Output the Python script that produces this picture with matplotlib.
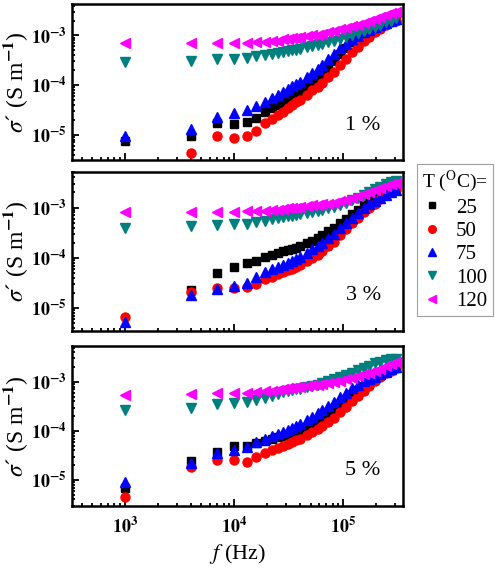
import numpy as np
import matplotlib.pyplot as plt
from matplotlib.ticker import FuncFormatter, LogLocator, NullFormatter

plt.rcParams['font.family'] = ['Liberation Serif', 'DejaVu Serif']
plt.rcParams['mathtext.fontset'] = 'stix'

# frequencies (Hz)
freq = [1e3, 4e3, 7e3, 10e3, 13e3, 16e3, 19e3, 22e3, 25e3, 28e3, 31e3, 34e3, 37e3,
        40e3, 46e3, 52e3, 58e3, 64e3, 73e3, 82e3, 94e3, 106e3, 121e3, 136e3, 154e3,
        172e3, 193e3, 217e3, 244e3, 271e3, 301e3]

temps = ['25', '50', '75', '100', '120']
nan = np.nan

# 1 %
s1_25 = [7.5e-6, 9.3e-6, 1.74e-5, 1.67e-5, 1.8e-5, 2.2e-5, 2.9e-5, 3.4e-5, 4.0e-5, 4.6e-5,
         5.2e-5, 5.8e-5, 6.5e-5, 7.3e-5, 9.0e-5, 1.1e-4, 1.35e-4, 1.65e-4, 2.2e-4, 3.0e-4,
         4.2e-4, 5.6e-4, 7.5e-4, 9.2e-4, 1.1e-3, 1.27e-3, 1.43e-3, 1.6e-3, 1.77e-3, 1.93e-3, 2.05e-3]
s1_50 = [nan, 4.3e-6, 9.3e-6, 8.5e-6, 9.5e-6, 1.2e-5, 1.7e-5, 2.1e-5, 2.5e-5, 2.9e-5,
         3.4e-5, 3.9e-5, 4.5e-5, 5.0e-5, 6.3e-5, 7.8e-5, 9.3e-5, 1.12e-4, 1.48e-4, 1.86e-4,
         2.6e-4, 3.4e-4, 4.6e-4, 5.8e-4, 7.6e-4, 9.5e-4, 1.17e-3, 1.38e-3, 1.62e-3, 1.86e-3, 2.0e-3]
s1_75 = [9.5e-6, 1.3e-5, 2.3e-5, 2.8e-5, 3.2e-5, 3.8e-5, 4.6e-5, 5.6e-5, 6.4e-5, 7.4e-5,
         8.3e-5, 9.5e-5, 1.07e-4, 1.17e-4, 1.45e-4, 1.75e-4, 2.1e-4, 2.6e-4, 3.4e-4, 4.3e-4,
         5.5e-4, 6.8e-4, 8.3e-4, 9.8e-4, 1.15e-3, 1.29e-3, 1.45e-3, 1.62e-3, 1.78e-3, 1.95e-3, 2.1e-3]
s1_100 = [2.9e-4, 3.0e-4, 3.3e-4, 3.4e-4, 3.5e-4, 3.8e-4, 4.0e-4, 4.2e-4, 4.4e-4, 4.6e-4,
          4.8e-4, 5.0e-4, 5.2e-4, 5.4e-4, 5.8e-4, 6.1e-4, 6.4e-4, 6.8e-4, 7.3e-4, 7.8e-4,
          8.6e-4, 9.4e-4, 1.03e-3, 1.12e-3, 1.24e-3, 1.36e-3, 1.5e-3, 1.66e-3, 1.84e-3, 2.0e-3, 2.2e-3]
s1_120 = [6.9e-4, 6.9e-4, 7.0e-4, 7.0e-4, 7.1e-4, 7.3e-4, 7.5e-4, 7.7e-4, 7.9e-4, 8.4e-4,
          8.6e-4, 8.8e-4, 9.0e-4, 9.2e-4, 9.6e-4, 1.0e-3, 1.04e-3, 1.09e-3, 1.16e-3, 1.22e-3,
          1.33e-3, 1.42e-3, 1.52e-3, 1.64e-3, 1.8e-3, 1.95e-3, 2.15e-3, 2.35e-3, 2.6e-3, 2.8e-3, 3.0e-3]

# 3 %
s3_25 = [nan, 2.3e-5, 4.9e-5, 6.6e-5, 7.7e-5, 8.7e-5, 1.05e-4, 1.15e-4, 1.23e-4, 1.35e-4,
         1.42e-4, 1.5e-4, 1.6e-4, 1.7e-4, 1.95e-4, 2.2e-4, 2.5e-4, 2.8e-4, 3.4e-4, 4.0e-4,
         4.9e-4, 5.9e-4, 7.3e-4, 8.9e-4, 1.1e-3, 1.32e-3, 1.55e-3, 1.8e-3, 2.1e-3, 2.35e-3, 2.5e-3]
s3_50 = [6.5e-6, 2.1e-5, 2.55e-5, 2.5e-5, 2.6e-5, 3.0e-5, 3.7e-5, 4.2e-5, 4.7e-5, 5.1e-5,
         5.6e-5, 6.0e-5, 6.6e-5, 7.1e-5, 8.5e-5, 1.0e-4, 1.15e-4, 1.35e-4, 1.7e-4, 2.1e-4,
         2.8e-4, 3.7e-4, 5.0e-4, 6.3e-4, 8.1e-4, 1.0e-3, 1.2e-3, 1.48e-3, 1.74e-3, 2.0e-3, 2.2e-3]
s3_75 = [5.2e-6, 1.8e-5, 2.4e-5, 2.8e-5, 3.2e-5, 4.1e-5, 5.1e-5, 5.9e-5, 6.6e-5, 7.2e-5,
         7.9e-5, 8.7e-5, 9.4e-5, 1.02e-4, 1.26e-4, 1.48e-4, 1.74e-4, 2.0e-4, 2.45e-4, 3.0e-4,
         3.9e-4, 4.9e-4, 6.3e-4, 7.8e-4, 9.8e-4, 1.15e-3, 1.35e-3, 1.58e-3, 1.8e-3, 2.05e-3, 2.25e-3]
s3_100 = [3.9e-4, 4.2e-4, 4.4e-4, 4.6e-4, 4.8e-4, 5.2e-4, 5.5e-4, 5.8e-4, 6.1e-4, 6.5e-4,
          6.7e-4, 6.9e-4, 7.1e-4, 7.3e-4, 7.8e-4, 8.2e-4, 8.6e-4, 9.0e-4, 9.6e-4, 1.03e-3,
          1.13e-3, 1.24e-3, 1.38e-3, 1.55e-3, 1.78e-3, 2.0e-3, 2.3e-3, 2.6e-3, 2.9e-3, 3.15e-3, 3.3e-3]
s3_120 = [8.1e-4, 8.1e-4, 8.2e-4, 8.3e-4, 8.4e-4, 8.5e-4, 8.7e-4, 8.9e-4, 9.1e-4, 9.5e-4,
          9.6e-4, 9.8e-4, 1.0e-3, 1.02e-3, 1.06e-3, 1.1e-3, 1.12e-3, 1.15e-3, 1.19e-3, 1.24e-3,
          1.33e-3, 1.43e-3, 1.55e-3, 1.7e-3, 1.85e-3, 2.0e-3, 2.2e-3, 2.4e-3, 2.65e-3, 2.9e-3, 3.1e-3]

# 5 %
s5_25 = [6.9e-6, 2.4e-5, 3.7e-5, 5.0e-5, 5.0e-5, 5.7e-5, 6.3e-5, 6.9e-5, 7.4e-5, 8.0e-5,
         8.6e-5, 9.2e-5, 9.8e-5, 1.05e-4, 1.2e-4, 1.38e-4, 1.58e-4, 1.8e-4, 2.2e-4, 2.7e-4,
         3.4e-4, 4.2e-4, 5.4e-4, 6.7e-4, 8.3e-4, 1.0e-3, 1.18e-3, 1.37e-3, 1.57e-3, 1.76e-3, 1.9e-3]
s5_50 = [4.4e-6, 1.8e-5, 2.5e-5, 2.6e-5, 2.3e-5, 3.0e-5, 3.5e-5, 4.0e-5, 4.5e-5, 5.0e-5,
         5.5e-5, 6.0e-5, 6.5e-5, 6.9e-5, 8.2e-5, 9.5e-5, 1.08e-4, 1.25e-4, 1.55e-4, 1.85e-4,
         2.4e-4, 3.1e-4, 4.0e-4, 5.1e-4, 6.6e-4, 8.3e-4, 1.03e-3, 1.27e-3, 1.5e-3, 1.7e-3, 1.9e-3]
s5_75 = [8.9e-6, 2.2e-5, 3.5e-5, 4.1e-5, 4.6e-5, 5.9e-5, 6.8e-5, 7.7e-5, 8.5e-5, 9.5e-5,
         1.05e-4, 1.15e-4, 1.26e-4, 1.38e-4, 1.65e-4, 1.95e-4, 2.3e-4, 2.65e-4, 3.2e-4, 3.9e-4,
         4.9e-4, 6.0e-4, 7.5e-4, 8.7e-4, 1.02e-3, 1.15e-3, 1.28e-3, 1.43e-3, 1.6e-3, 1.8e-3, 2.05e-3]
s5_100 = [2.7e-4, 3.0e-4, 3.5e-4, 3.7e-4, 3.9e-4, 4.2e-4, 4.7e-4, 5.1e-4, 5.6e-4, 6.1e-4,
          6.4e-4, 6.7e-4, 7.0e-4, 7.3e-4, 7.8e-4, 8.3e-4, 8.8e-4, 9.4e-4, 1.03e-3, 1.12e-3,
          1.25e-3, 1.38e-3, 1.55e-3, 1.72e-3, 1.95e-3, 2.15e-3, 2.4e-3, 2.6e-3, 2.8e-3, 2.9e-3, 2.95e-3]
s5_120 = [5.5e-4, 5.7e-4, 5.9e-4, 5.9e-4, 6.0e-4, 6.2e-4, 6.4e-4, 6.6e-4, 6.9e-4, 7.2e-4,
          7.4e-4, 7.6e-4, 7.7e-4, 7.8e-4, 8.2e-4, 8.5e-4, 8.7e-4, 9.0e-4, 9.4e-4, 9.8e-4,
          1.05e-3, 1.12e-3, 1.2e-3, 1.3e-3, 1.42e-3, 1.55e-3, 1.7e-3, 1.87e-3, 2.1e-3, 2.35e-3, 2.55e-3]

panels = [('1 %', [s1_25, s1_50, s1_75, s1_100, s1_120], (3.1e-6, 4.3e-3)),
          ('3 %', [s3_25, s3_50, s3_75, s3_100, s3_120], (3.5e-6, 5.1e-3)),
          ('5 %', [s5_25, s5_50, s5_75, s5_100, s5_120], (2.95e-6, 5.4e-3))]

markers = ['s', 'o', '^', 'v', '<']
colors = ['black', 'red', 'blue', '#007f7f', '#ff00ff']
sizes = [5.5, 6.5, 6.5, 6.5, 6.5]

fig = plt.figure(figsize=(5.02, 5.68), dpi=100)
rects = [[0.1434, 0.7183, 0.659, 0.2746],
         [0.1434, 0.4173, 0.659, 0.2800],
         [0.1434, 0.1092, 0.659, 0.2817]]


def fmt(v, pos):
    e = int(round(np.log10(v)))
    return r'$\mathbf{10^{%d}}$' % e


for i, (label, series, ylim) in enumerate(panels):
    ax = fig.add_axes(rects[i])
    lines = []
    for s, m, c, ms in zip(series, markers, colors, sizes):
        ln, = ax.plot(freq, s, linestyle='none', marker=m, color=c, ms=ms, mec=c)
        lines.append(ln)
    ax.set_xscale('log')
    ax.set_yscale('log')
    ax.set_xlim(327, 3.5e5)
    ax.set_ylim(*ylim)
    for sp in ax.spines.values():
        sp.set_linewidth(1.8)
    ax.tick_params(which='both', direction='in', top=False, right=False, width=1.3)
    ax.tick_params(which='major', length=5, labelsize=13)
    ax.tick_params(which='minor', length=2.5)
    ax.yaxis.set_major_locator(LogLocator(base=10, numticks=10))
    ax.yaxis.set_minor_locator(LogLocator(base=10, subs=np.arange(2, 10), numticks=10))
    ax.yaxis.set_minor_formatter(NullFormatter())
    ax.yaxis.set_major_formatter(FuncFormatter(fmt))
    ax.xaxis.set_minor_formatter(NullFormatter())
    if i == 2:
        ax.xaxis.set_major_formatter(FuncFormatter(fmt))
        ax.tick_params(axis='x', which='major', pad=8)
        ax.set_xlabel(r'$f$ (Hz)', fontsize=16, labelpad=3)
    else:
        ax.set_xticklabels([])
    ax.set_ylabel(r"$\sigma$´ (S m$^{\mathbf{-1}}$)", fontsize=17, labelpad=1)
    ax.text(0.88, 0.22, label, transform=ax.transAxes, fontsize=16, ha='center', va='center')

leg = fig.legend(lines, temps, loc='upper left', bbox_to_anchor=(0.831, 1 - 164 / 568),
                 title=r'T ($^{\rm O}$C)=', fontsize=15, title_fontsize=14,
                 frameon=True, fancybox=False, edgecolor='#888888', handlelength=0.9,
                 handletextpad=0.7, borderpad=0.25, borderaxespad=0.0, labelspacing=0.18,
                 markerscale=0.85, alignment='left')
leg.get_frame().set_linewidth(0.8)

fig.savefig('out.png', dpi=100)
